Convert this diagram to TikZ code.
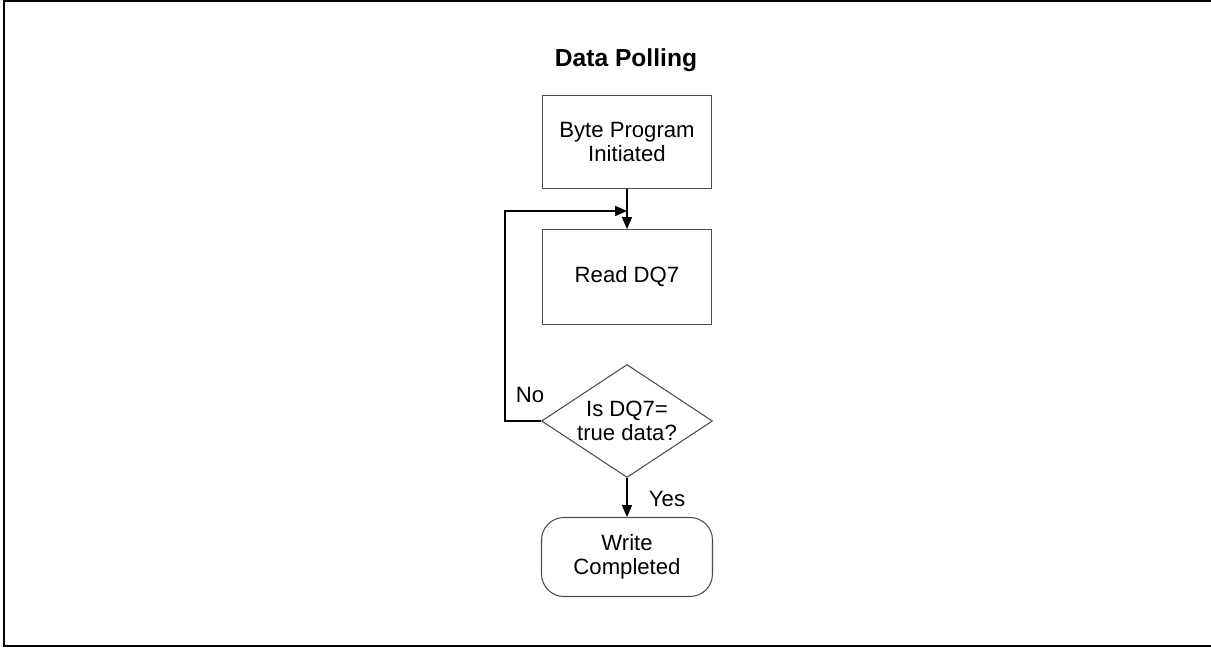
\documentclass[tikz,border=0pt]{standalone}
\usepackage{fontspec}
\setmainfont{Liberation Sans}
\usetikzlibrary{shapes.geometric,arrows.meta}

\tikzset{
  stepbox/.style={draw=black!70,line width=0.6pt,minimum width=3.38cm,align=center,font=\fontsize{12.6}{13.6}\selectfont},
  endbox/.style={stepbox,rounded corners=0.45cm,minimum width=3.42cm,minimum height=1.58cm},
  testbox/.style={draw=black!70,line width=0.6pt,diamond,aspect=1.51,minimum width=3.42cm,minimum height=2.26cm,inner sep=0pt,align=center,font=\fontsize{12.6}{13.6}\selectfont},
  lbl/.style={font=\fontsize{12.6}{13.6}\selectfont}
}

\begin{document}
\begin{tikzpicture}[x=0.02cm,y=-0.02cm,>={Triangle[length=6.8pt,width=5.8pt]}]
\useasboundingbox (0,0) rectangle (1211,648);
\draw [line width=1pt] (1211,1) -- (4,1) -- (4,646) -- (1211,646);

\node [font=\fontsize{14}{16}\selectfont\bfseries] (title) at (626,60) {Data Polling};

\node [stepbox,minimum height=1.86cm] (start) at (627,142) {Byte Program\\Initiated};
\node [stepbox,minimum height=1.9cm] (read) at (627,277) {Read DQ7};
\node [testbox] (test) at (627,421) {Is DQ7=\\true data?};
\node [endbox] (done) at (627,557) {Write\\Completed};

\coordinate (join) at (627,211);

\draw [->,line width=0.6pt] (start) to (read);
\draw [->,line width=0.6pt] (test.west) -- ++(-36,0) |- (join);
\draw [->,line width=0.6pt] (test) to (done);

\node [lbl] (no) at (530,395) {No};
\node [lbl] (yes) at (667,499) {Yes};

\end{tikzpicture}
\end{document}
